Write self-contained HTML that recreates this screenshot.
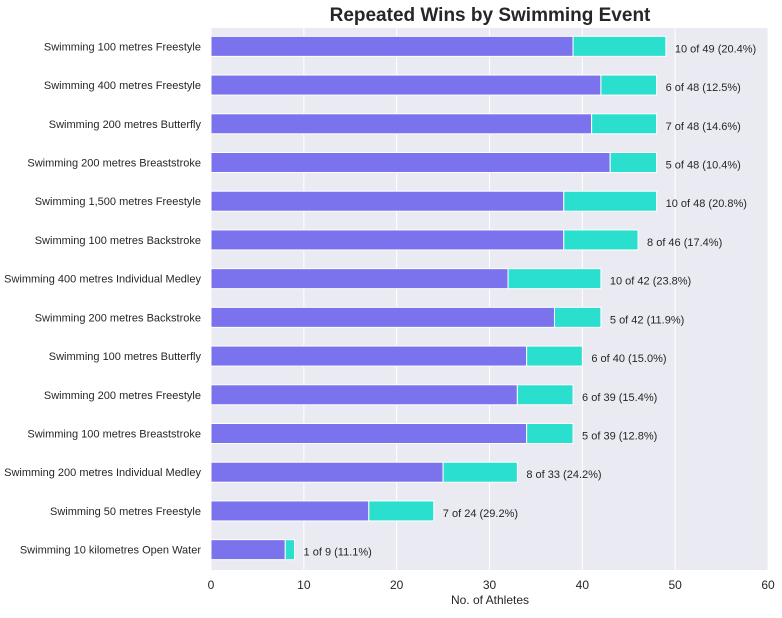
<!DOCTYPE html>
<html><head><meta charset="utf-8"><style>
body{margin:0;background:#fff;font-family:"Liberation Sans",sans-serif}
</style></head><body>
<svg id="chart" width="782" height="613" xmlns="http://www.w3.org/2000/svg">
<text x="490" y="21" text-anchor="middle" font-size="19" font-weight="bold" fill="#262626">Repeated Wins by Swimming Event</text>
<rect x="211" y="28" width="557" height="542" fill="#eaeaf2"/>
<g id="grid"></g><g id="bars"></g><g id="labels"></g><g id="xaxis"></g>
<text x="490" y="604" text-anchor="middle" font-size="12" fill="#262626">No. of Athletes</text>
</svg>
<script>
const categories=["Swimming 100 metres Freestyle","Swimming 400 metres Freestyle","Swimming 200 metres Butterfly","Swimming 200 metres Breaststroke","Swimming 1,500 metres Freestyle","Swimming 100 metres Backstroke","Swimming 400 metres Individual Medley","Swimming 200 metres Backstroke","Swimming 100 metres Butterfly","Swimming 200 metres Freestyle","Swimming 100 metres Breaststroke","Swimming 200 metres Individual Medley","Swimming 50 metres Freestyle","Swimming 10 kilometres Open Water"];
const totals=[49,48,48,48,48,46,42,42,40,39,39,33,24,9];
const repeats=[10,6,7,5,10,8,10,5,6,6,5,8,7,1];
const xTicks=[0,10,20,30,40,50,60];
const NS="http://www.w3.org/2000/svg";
const x0=211,x1=768,xMax=60,yTop=28,yBot=570;
const slot=(yBot-yTop)/categories.length;
const xs=v=>x0+(x1-x0)*v/xMax;
const yc=i=>yTop+slot*(i+0.5)-1;
function mk(tag,attrs,parent){const e=document.createElementNS(NS,tag);for(const k in attrs)e.setAttribute(k,attrs[k]);document.getElementById(parent).appendChild(e);return e;}
xTicks.forEach(t=>{
  const l=mk('line',{x1:xs(t),x2:xs(t),y1:yTop,y2:yBot,stroke:'#fff','stroke-width':1},'grid');
  
  
  const tx=mk('text',{x:xs(t),y:589,'text-anchor':'middle','font-size':12,fill:'#262626'},'xaxis');
  tx.textContent=t;
  
  
});
categories.forEach((c,i)=>{
  const y=yc(i),h=20,first=totals[i]-repeats[i];
  const b1=mk('rect',{x:xs(0),y:y-h/2,width:xs(first)-xs(0),height:h,fill:'#7b73ee',stroke:'#fff','stroke-width':1},'bars');
  
  
  const b2=mk('rect',{x:xs(first),y:y-h/2,width:xs(totals[i])-xs(first),height:h,fill:'#2adfce',stroke:'#fff','stroke-width':1},'bars');
  
  
  const cl=mk('text',{x:201,y:y+4,'text-anchor':'end','font-size':11,fill:'#262626'},'labels');
  cl.textContent=c;
  
  
  const vl=mk('text',{x:xs(totals[i])+9,y:y+6,'font-size':11,fill:'#262626'},'labels');
  vl.textContent=repeats[i]+' of '+totals[i]+' ('+(100*repeats[i]/totals[i]).toFixed(1)+'%)';
  
  
});
</script>
</body></html>
